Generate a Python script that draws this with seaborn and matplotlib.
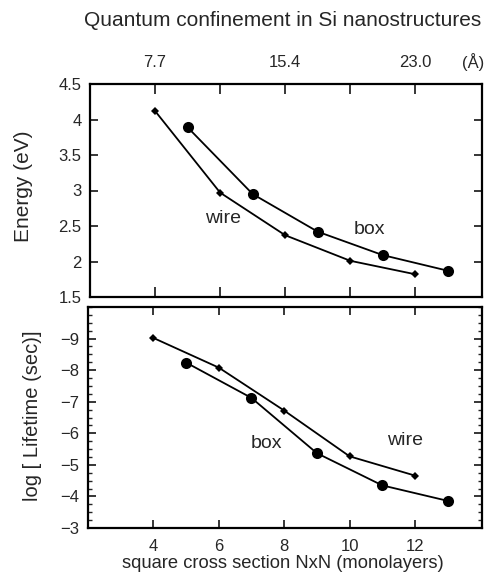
import matplotlib
matplotlib.use("Agg")
import matplotlib.pyplot as plt
import seaborn as sns
import pandas as pd
from matplotlib.ticker import MultipleLocator

sns.set_style("ticks")
plt.rcParams['font.family'] = ['Liberation Sans', 'DejaVu Sans']

# Data
wire_n = [4, 6, 8, 10, 12]
box_n = [5, 7, 9, 11, 13]
energy_wire = [4.12, 2.97, 2.37, 2.01, 1.82]
energy_box = [3.89, 2.95, 2.42, 2.09, 1.87]
life_wire = [-9.02, -8.08, -6.72, -5.27, -4.66]
life_box = [-8.24, -7.12, -5.37, -4.35, -3.86]
x_ticks = [4, 6, 8, 10, 12]
top_tick_labels = ["7.7", "", "15.4", "", "23.0"]
energy_ticks = [1.5, 2, 2.5, 3, 3.5, 4, 4.5]
energy_tick_labels = ["1.5", "2", "2.5", "3", "3.5", "4", "4.5"]
life_ticks = [-9, -8, -7, -6, -5, -4, -3]

W, H = 488, 573
fig = plt.figure(figsize=(W / 100, H / 100), dpi=100)

def box_px(l, t, r, b):
    return [l / W, 1 - b / H, (r - l) / W, (b - t) / H]

ax1 = fig.add_axes(box_px(90, 84, 482, 297))
ax2 = fig.add_axes(box_px(88, 307, 482, 528))

lw = 1.3
tfs = 12
for ax in (ax1, ax2):
    for s in ax.spines.values():
        s.set_linewidth(1.6)
        s.set_color("black")
    ax.set_xlim(2, 14.05)
    ax.set_xticks(x_ticks)

# --- top panel
df_ew = pd.DataFrame({"N": wire_n, "E": energy_wire})
df_eb = pd.DataFrame({"N": box_n, "E": energy_box})
sns.lineplot(data=df_ew, x="N", y="E", ax=ax1, color="black", lw=lw,
             marker="D", markersize=4.5, markeredgewidth=0)
sns.lineplot(data=df_eb, x="N", y="E", ax=ax1, color="black", lw=lw,
             marker="o", markersize=8, markeredgewidth=0)
ax1.set_ylim(1.5, 4.5)
ax1.set_yticks(energy_ticks)
ax1.set_yticklabels(energy_tick_labels)
ax1.set_xticklabels(top_tick_labels)
ax1.tick_params(axis="x", direction="in", top=True, bottom=True,
                labeltop=True, labelbottom=False, length=7, width=1.3,
                labelsize=tfs, pad=10)
ax1.tick_params(axis="y", direction="in", left=True, right=True,
                length=6, width=1.3, labelsize=tfs, pad=6)
ax1.set_xlabel("")
ax1.set_ylabel("Energy (eV)", fontsize=15)
ax1.yaxis.set_label_coords(-0.145, 0.52)
ax1.text(6.09, 2.61, "wire", fontsize=14, ha="center", va="center")
ax1.text(10.6, 2.45, "box", fontsize=14, ha="center", va="center")

# --- bottom panel
df_lw = pd.DataFrame({"N": wire_n, "L": life_wire})
df_lb = pd.DataFrame({"N": box_n, "L": life_box})
sns.lineplot(data=df_lw, x="N", y="L", ax=ax2, color="black", lw=lw,
             marker="D", markersize=4.5, markeredgewidth=0)
sns.lineplot(data=df_lb, x="N", y="L", ax=ax2, color="black", lw=lw,
             marker="o", markersize=8, markeredgewidth=0)
ax2.set_ylim(-3, -10)
ax2.set_yticks(life_ticks)
ax2.yaxis.set_minor_locator(MultipleLocator(0.25))
ax2.tick_params(axis="x", direction="in", top=True, bottom=True,
                length=6, width=1.3, labelsize=tfs, pad=8)
ax2.tick_params(axis="y", which="major", direction="in", left=True,
                right=True, length=6, width=1.3, labelsize=tfs, pad=6)
ax2.tick_params(axis="y", which="minor", direction="in", left=True,
                right=True, length=3, width=1.0)
ax2.set_xlabel("")
ax2.set_ylabel("log [ Lifetime (sec)]", fontsize=14.5)
ax2.yaxis.set_label_coords(-0.117, 0.51)
ax2.text(7.47, -5.67, "box", fontsize=14, ha="center", va="center")
ax2.text(11.7, -5.76, "wire", fontsize=14, ha="center", va="center")

fig.text(283 / W, 1 - 20 / H, "Quantum confinement in Si nanostructures",
         fontsize=15, ha="center", va="center")
fig.text(473 / W, 1 - 62 / H, "(Å)", fontsize=12, ha="center", va="center")
fig.text(283 / W, 1 - 563 / H, "square cross section NxN (monolayers)",
         fontsize=13.2, ha="center", va="center")

fig.savefig("out.png", dpi=100)
